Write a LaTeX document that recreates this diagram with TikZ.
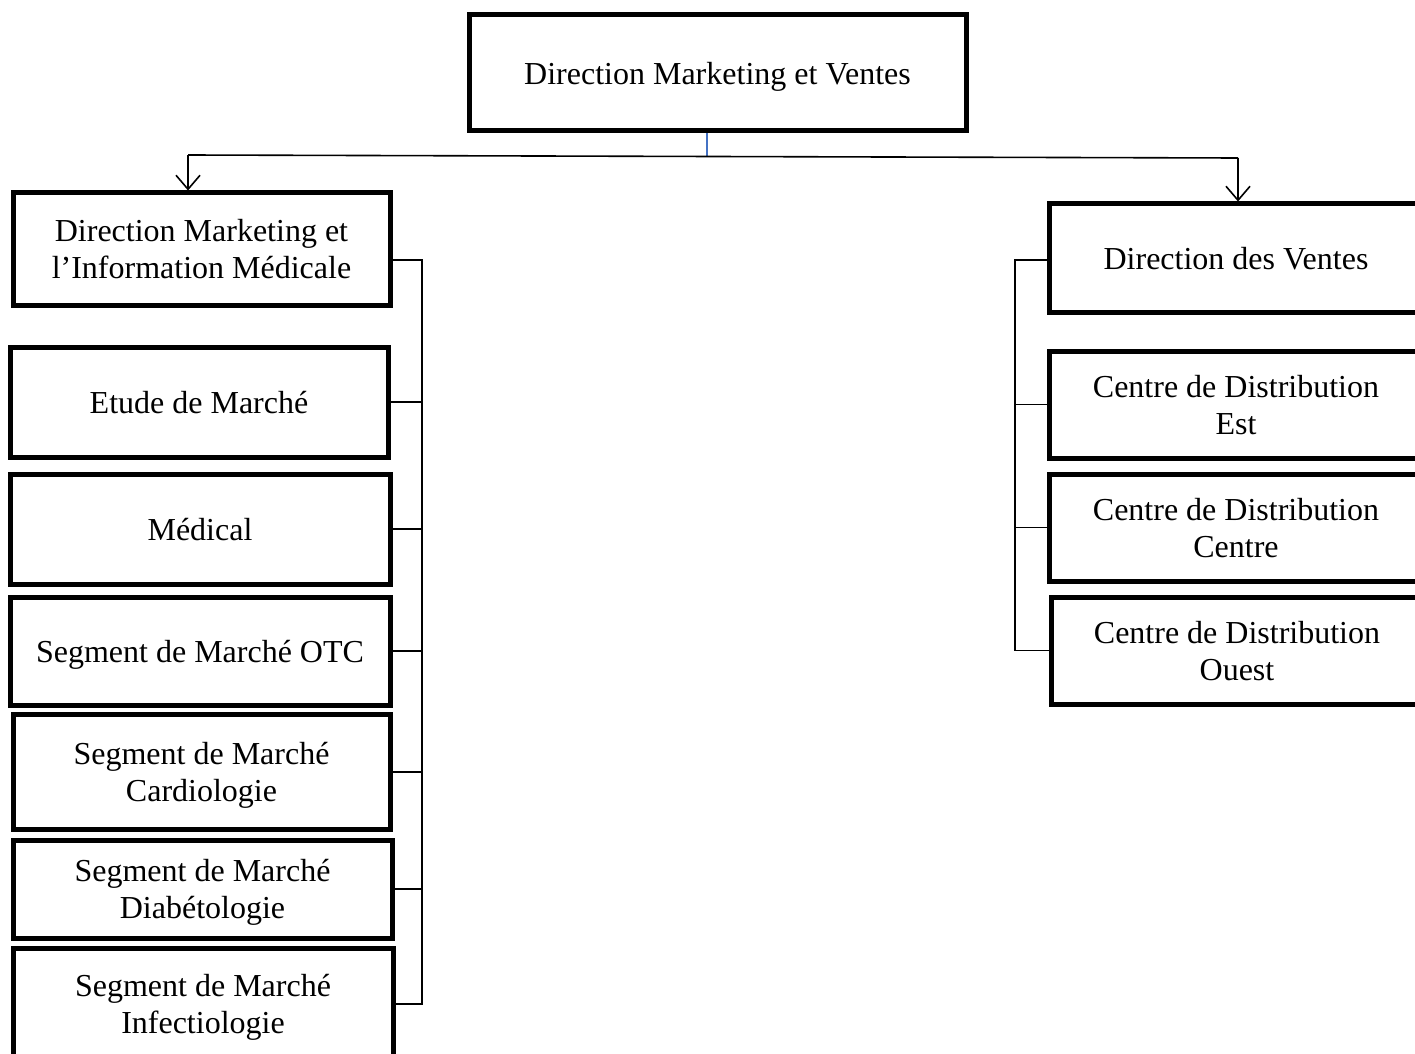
\documentclass[tikz,border=0pt]{standalone}
\usepackage{fontspec}
\setmainfont{Liberation Serif}
\usetikzlibrary{arrows.meta}

\definecolor{wordblue}{RGB}{68,114,196}

\tikzset{
  box/.style={draw, line width=2.5pt, inner sep=0pt, align=center, text depth=0pt,
    font=\fontsize{16pt}{18.5pt}\selectfont},
  link/.style={line width=0.8pt},
  arr/.style={link, -{Straight Barb[length=7pt,width=12pt,line width=0.8pt]}},
}

\begin{document}
\begin{tikzpicture}[x=0.5pt,y=0.5pt,yscale=-1,xscale=1]

\useasboundingbox (0,0) rectangle (1415,1054);
\clip (0,0) rectangle (1415,1054);

\node[box, minimum width=248.5pt, minimum height=58pt] (dmv) at (717.5,73) {Direction Marketing et Ventes};

% branche marketing
\node[box, minimum width=188.5pt, minimum height=56pt] (dmim) at (201.5,249) {Direction Marketing et\\l’Information Médicale};
\node[box, minimum width=189pt, minimum height=55pt] (etude) at (199,402) {Etude de Marché};
\node[box, minimum width=190pt, minimum height=55pt] (medical) at (200,529) {Médical};
\node[box, minimum width=190pt, minimum height=54pt] (otc) at (200,651) {Segment de Marché OTC};
\node[box, minimum width=188.5pt, minimum height=57.5pt] (cardio) at (201.5,772) {Segment de Marché\\Cardiologie};
\node[box, minimum width=189.5pt, minimum height=49pt] (diabeto) at (202.5,889) {Segment de Marché\\Diabétologie};
\node[box, minimum width=190pt, minimum height=56pt] (infectio) at (203,1004) {Segment de Marché\\Infectiologie};

% branche ventes
\node[box, minimum width=187pt, minimum height=54pt] (ventes) at (1236,258) {Direction des Ventes};
\node[box, minimum width=187pt, minimum height=53.5pt] (est) at (1236,404.5) {Centre de Distribution\\Est};
\node[box, minimum width=187pt, minimum height=53.5pt] (centre) at (1236,527.5) {Centre de Distribution\\Centre};
\node[box, minimum width=186pt, minimum height=53.5pt] (ouest) at (1237,650.5) {Centre de Distribution\\Ouest};

\coordinate (jt) at (707,156);
\coordinate (jl) at (188,155);
\coordinate (jr) at (1238,158);
\draw[link, wordblue] (jt |- dmv.south) -- (jt);
\draw[link] (jl) -- (jr);
\draw[arr] (jl) -- (jl |- dmim.north);
\draw[arr] (jr) -- (jr |- ventes.north);

\coordinate (lb) at (422,260);
\draw[link] (dmim.east |- lb) -- (lb) -- (lb |- infectio.east) -- (infectio.east);
\foreach \n in {etude,medical,otc,cardio,diabeto}
  \draw[link] (\n.east) -- (\n.east -| lb);

\coordinate (rb) at (1015,260);
\draw[link] (ventes.west |- rb) -- (rb) -- (rb |- ouest.west) -- (ouest.west);
\foreach \n in {est,centre}
  \draw[link] (\n.west) -- (\n.west -| rb);

\end{tikzpicture}
\end{document}
